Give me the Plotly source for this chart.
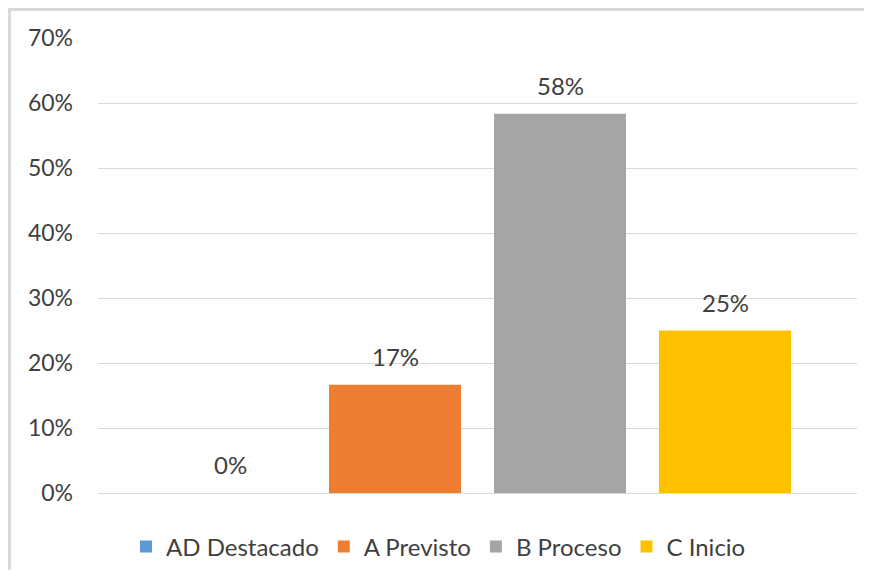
import plotly.graph_objects as go

categories = ["AD Destacado", "A Previsto", "B Proceso", "C Inicio"]
values = [0.0, 16.67, 58.33, 25.0]
labels = ["0%", "17%", "58%", "25%"]
colors = ["#5B9BD5", "#ED7D31", "#A5A5A5", "#FFC000"]
y_ticks = [0, 10, 20, 30, 40, 50, 60, 70]
y_tick_labels = ["0%", "10%", "20%", "30%", "40%", "50%", "60%", "70%"]

FONT = "Lato"
TXT = "#404040"

fig = go.Figure()
for cat, val, col in zip(categories, values, colors):
    fig.add_trace(go.Bar(
        x=[cat], y=[val], name=cat,
        marker=dict(color=col, line=dict(width=0)),
        width=0.8,
        hoverinfo="skip",
    ))

for cat, val, lab in zip(categories, values, labels):
    fig.add_annotation(
        x=cat, y=val, text=lab, showarrow=False,
        yanchor="bottom", yshift=12,
        font=dict(family=FONT, size=24, color=TXT),
    )

# page has an 8px body margin, so the figure is laid out in page coords minus 8
OFF = 8
W, H = 856, 562
L, R, T, B = 98 - OFF, W - (857 - OFF), 38 - OFF, H - (493 - OFF)
pw, ph = W - L - R, H - T - B

def px_x(px):
    return (px - OFF - L) / pw

def px_y(py):
    return (H - B - (py - OFF)) / ph

# outer frame (top and left edges), kept inside the figure
fig.add_shape(type="line", xref="paper", yref="paper",
              x0=px_x(8), x1=px_x(OFF + W), y0=px_y(9.5), y1=px_y(9.5),
              line=dict(color="#D9D9D9", width=3))
fig.add_shape(type="line", xref="paper", yref="paper",
              x0=px_x(9.5), x1=px_x(9.5), y0=px_y(8), y1=px_y(OFF + H),
              line=dict(color="#D9D9D9", width=3))

fig.update_layout(
    width=W, height=H,
    margin=dict(l=L, r=R, t=T, b=B, autoexpand=False),
    paper_bgcolor="white", plot_bgcolor="white",
    barmode="overlay",
    showlegend=True,
    legend=dict(
        orientation="h", x=px_x(126), xanchor="left",
        y=px_y(547), yanchor="middle",
        font=dict(family=FONT, size=24, color=TXT),
        itemwidth=30, traceorder="normal",
    ),
    font=dict(family=FONT, size=23, color=TXT),
    xaxis=dict(
        type="category", categoryorder="array", categoryarray=categories,
        range=[-0.8, 3.8], showticklabels=False, showgrid=False,
        zeroline=False, showline=False, ticks="",
    ),
    yaxis=dict(
        range=[0, 70], tickvals=y_ticks, ticktext=y_tick_labels,
        showgrid=True, gridcolor="#D9D9D9", gridwidth=1,
        zeroline=True, zerolinecolor="#D9D9D9", zerolinewidth=1,
        showline=False, ticks="", ticklabelstandoff=24,
        tickfont=dict(family=FONT, size=23, color=TXT),
    ),
)

fig.write_html("out.html")
